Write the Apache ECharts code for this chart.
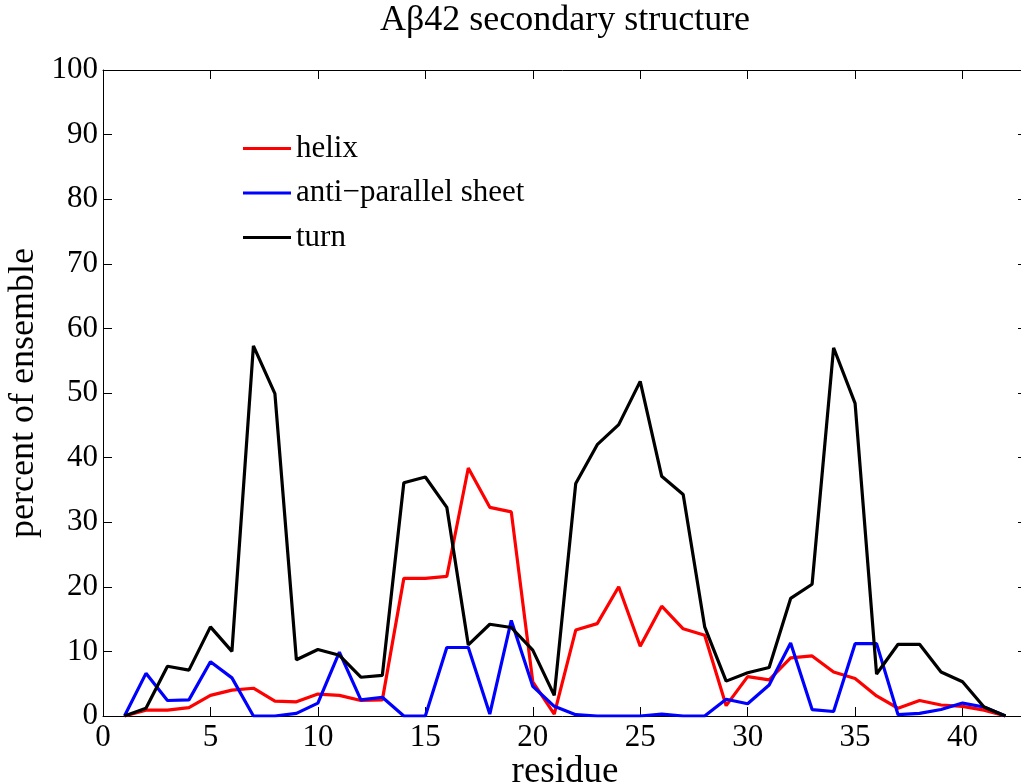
<!DOCTYPE html>
<html>
<head>
<meta charset="utf-8">
<script src="https://cdn.jsdelivr.net/npm/echarts@6/dist/echarts.min.js"></script>
<style>html,body{margin:0;padding:0;background:#fff}#c{width:1021px;height:784px}</style>
</head>
<body>
<div id="c"></div>
<script>
const residues = [1,2,3,4,5,6,7,8,9,10,11,12,13,14,15,16,17,18,19,20,21,22,23,24,25,26,27,28,29,30,31,32,33,34,35,36,37,38,39,40,41,42];
const helix = [0,0.9,0.9,1.3,3.2,4.0,4.3,2.3,2.2,3.4,3.2,2.4,2.5,21.3,21.3,21.6,38.4,32.3,31.6,5.3,0.3,13.3,14.3,20.0,10.8,17.0,13.5,12.5,1.6,6.1,5.6,9.0,9.3,6.8,5.8,3.1,1.2,2.4,1.7,1.5,0.9,0];
const sheet = [0,6.6,2.4,2.5,8.4,5.9,0,0,0.4,2.0,9.9,2.5,2.9,0,0,10.6,10.6,0.3,14.8,4.6,1.5,0.2,0,0,0,0.3,0,0,2.6,1.9,4.8,11.3,1.0,0.7,11.2,11.2,0.2,0.4,1.0,2.0,1.4,0];
const turn = [0,1.2,7.7,7.1,13.8,10.0,57.3,49.9,8.7,10.3,9.4,6.0,6.3,36.1,37.0,32.3,11.0,14.2,13.7,10.2,3.2,36.0,42.0,45.1,51.8,37.1,34.3,13.8,5.4,6.7,7.5,18.2,20.4,57.0,48.4,6.5,11.1,11.1,6.8,5.3,1.4,0];
const seriesNames = ['helix','anti\u2212parallel sheet','turn'];
const titleText = 'A\u03b242 secondary structure';
const xName = 'residue';
const yName = 'percent of ensemble';

const font = 'Liberation Serif';
const pair = (arr) => residues.map((r,i)=>[r,arr[i]]);
const mk = (name, data, color) => ({
  name, type:'line', data: pair(data), showSymbol:false, symbol:'none',
  lineStyle:{color, width:3.2}, itemStyle:{color}, animation:false, z:3
});
const tick = {show:true, inside:true, length:9, lineStyle:{color:'#000', width:1}};
const line = {show:true, onZero:false, lineStyle:{color:'#000', width:1}};
const chart = echarts.init(document.getElementById('c'));
chart.setOption({
  backgroundColor:'#fff',
  animation:false,
  title:{text:titleText, left:565, textAlign:'center', top:3, padding:0,
    textStyle:{fontFamily:font, fontSize:36, fontWeight:'normal', color:'#000'}},
  legend:{orient:'vertical', left:243, top:133, padding:0, itemWidth:48, itemHeight:3, itemGap:13.5, icon:'rect',
    textStyle:{fontFamily:font, fontSize:31, color:'#000'},
    data: seriesNames},
  grid:{left:103, right:-6, top:70, bottom:68, containLabel:false, outerBoundsMode:'none'},
  xAxis:[{type:'value', min:0, max:43, interval:5, name:xName, nameLocation:'middle', nameGap:38, nameMoveOverlap:false,
    nameTextStyle:{fontFamily:font, fontSize:37, color:'#000'},
    axisLine:line, axisTick:tick,
    axisLabel:{fontFamily:font, fontSize:31, color:'#000', margin:6, showMaxLabel:false},
    splitLine:{show:false}},
   {type:'value', min:0, max:43, interval:5, position:'top', show:true,
    axisLine:line, axisTick:tick,
    axisLabel:{show:false}, splitLine:{show:false}}],
  yAxis:[{type:'value', min:0, max:100, interval:10, name:yName, nameLocation:'middle', nameGap:61, nameMoveOverlap:false,
    nameTextStyle:{fontFamily:font, fontSize:36, color:'#000'},
    axisLine:line, axisTick:tick,
    axisLabel:{fontFamily:font, fontSize:31, color:'#000', margin:5},
    splitLine:{show:false}},
   {type:'value', min:0, max:100, interval:10, position:'right', show:true,
    axisLine:line, axisTick:tick,
    axisLabel:{show:false}, splitLine:{show:false}}],
  series:[
    mk(seriesNames[0], helix, '#ff0000'),
    mk(seriesNames[1], sheet, '#0000ff'),
    mk(seriesNames[2], turn, '#000000')
  ]
});
</script>
</body>
</html>
